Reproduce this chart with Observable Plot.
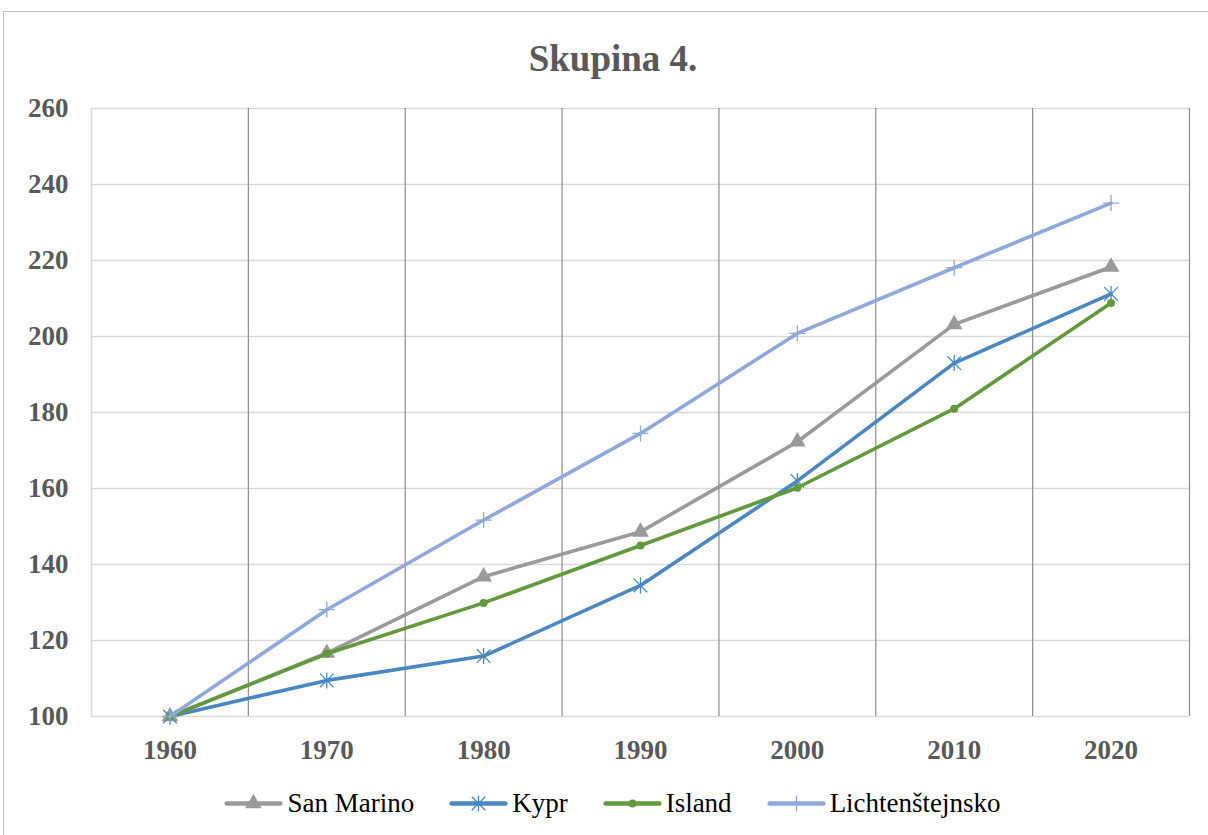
<!DOCTYPE html>
<html>
<head>
<meta charset="utf-8">
<script src="https://cdn.jsdelivr.net/npm/d3@7"></script>
<script src="https://cdn.jsdelivr.net/npm/@observablehq/plot@0.6"></script>
<style>
  html, body { margin: 0; padding: 0; background: #fff; }
  #wrap { position: relative; width: 1208px; height: 835px; overflow: hidden; background: #fff; }
  #border { position: absolute; left: 3px; top: 11px; width: 1240px; height: 860px; border: 1px solid #bfbfbf; box-sizing: border-box; }
  #title { position: absolute; left: 0; width: 1226px; top: 40px; text-align: center; font: bold 37px "Liberation Serif", "Times New Roman", serif; color: #595959; line-height: 37px; white-space: nowrap; }
  #chart { position: absolute; left: 0; top: 0; }
  #legend { position: absolute; left: 0; width: 1226px; top: 786px; display: flex; justify-content: center; align-items: center; gap: 36px; white-space: nowrap; font: 27px "Liberation Serif", "Times New Roman", serif; color: #000; line-height: 34px; }
  .item { display: flex; align-items: center; gap: 6px; flex: none; }
  .item svg { display: block; flex: none; max-width: none; }
</style>
</head>
<body>
<div id="wrap">
  <div id="border"></div>
  <div id="title"></div>
  <div id="chart"></div>
  <div id="legend"></div>
</div>
<script>
// ---- data ----
const titleText = "Skupina 4.";
const years = [1960, 1970, 1980, 1990, 2000, 2010, 2020];
const seriesNames = ["San Marino", "Kypr", "Island", "Lichtenštejnsko"];
const sanMarino = [100, 116.7, 136.8, 148.6, 172.3, 203.2, 218.3];
const kypr = [100, 109.5, 115.9, 134.5, 162.0, 193.0, 211.2];
const island = [100, 116.5, 129.9, 145.0, 160.2, 181.0, 208.8];
const lichtenstejnsko = [100, 128.1, 151.7, 174.5, 200.8, 218.1, 235.1];
const yTicks = [100, 120, 140, 160, 180, 200, 220, 240, 260];

// ---- styles ----
const colors = ["#9a9a9a", "#4a87c1", "#62993c", "#8fa8dc"];

const asterisk6 = {
  draw(ctx, size) {
    const r = Math.sqrt(size / Math.PI);
    const d = r * 0.85;
    ctx.moveTo(0, -r); ctx.lineTo(0, r);
    ctx.moveTo(-d, -d); ctx.lineTo(d, d);
    ctx.moveTo(-d, d); ctx.lineTo(d, -d);
  }
};
const plusThin = {
  draw(ctx, size) {
    const r = Math.sqrt(size / Math.PI);
    ctx.moveTo(0, -r); ctx.lineTo(0, r);
    ctx.moveTo(-r, 0); ctx.lineTo(r, 0);
  }
};

const seriesValues = [sanMarino, kypr, island, lichtenstejnsko];
const rows = seriesNames.map((name, s) => years.map((yr, i) => ({ series: name, year: yr, value: seriesValues[s][i] })));

const step = years[1] - years[0];
const boundaries = years.map(y => y + step / 2);
const leftEdge = years[0] - step / 2;

const markerSpecs = [
  { symbol: "triangle", r: 6.2, fill: colors[0], stroke: "none" },
  { symbol: asterisk6, r: 8, fill: "none", stroke: colors[1], strokeWidth: 1.3 },
  { symbol: "circle", r: 4, fill: colors[2], stroke: "none" },
  { symbol: plusThin, r: 8, fill: "none", stroke: colors[3], strokeWidth: 1.3 }
];

const marks = [
  Plot.ruleY(yTicks, { stroke: "#d9d9d9", strokeWidth: 1.6 }),
  Plot.ruleX([leftEdge], { stroke: "#d9d9d9", strokeWidth: 1.6 }),
  Plot.ruleX(boundaries, { stroke: "#8c8c8c", strokeWidth: 1.2 }),
  Plot.axisY({ ticks: yTicks, tickSize: 0, tickPadding: 23, label: null, fontSize: 27, fontWeight: "bold", tickFormat: d => String(d) }),
  Plot.axisX({ ticks: years, tickSize: 0, tickPadding: 23, label: null, fontSize: 27, fontWeight: "bold", tickFormat: d => String(d) })
];
rows.forEach((data, s) => {
  marks.push(Plot.line(data, { x: "year", y: "value", stroke: colors[s], strokeWidth: 3.6, strokeLinejoin: "round", strokeLinecap: "round" }));
  marks.push(Plot.dot(data, { x: "year", y: "value", ...markerSpecs[s] }));
});

const chart = Plot.plot({
  width: 1208,
  height: 835,
  marginLeft: 91,
  marginRight: 19,
  marginTop: 108,
  marginBottom: 119,
  x: { type: "linear", domain: [leftEdge, years[years.length - 1] + step / 2] },
  y: { domain: [yTicks[0], yTicks[yTicks.length - 1]] },
  style: { fontFamily: "'Liberation Serif', 'Times New Roman', serif", color: "#595959", background: "transparent", overflow: "visible" },
  marks
});
document.getElementById("chart").appendChild(chart);
document.getElementById("title").textContent = titleText;

// ---- legend ----
const legend = document.getElementById("legend");
seriesNames.forEach((name, s) => {
  const item = document.createElement("div");
  item.className = "item";
  const sw = Plot.plot({
    width: 56, height: 22, margin: 0,
    x: { domain: [0, 1], axis: null }, y: { domain: [0, 1], axis: null },
    style: { background: "transparent", overflow: "visible" },
    marks: [
      Plot.line([{ x: 0.02, y: 0.5 }, { x: 0.98, y: 0.5 }], { x: "x", y: "y", stroke: colors[s], strokeWidth: 4.5 }),
      Plot.dot([{ x: 0.5, y: 0.5 }], { x: "x", y: "y", ...markerSpecs[s] })
    ]
  });
  sw.style.width = "56px";
  sw.style.height = "22px";
  item.appendChild(sw);
  const label = document.createElement("span");
  label.textContent = name;
  item.appendChild(label);
  legend.appendChild(item);
});
</script>
</body>
</html>
